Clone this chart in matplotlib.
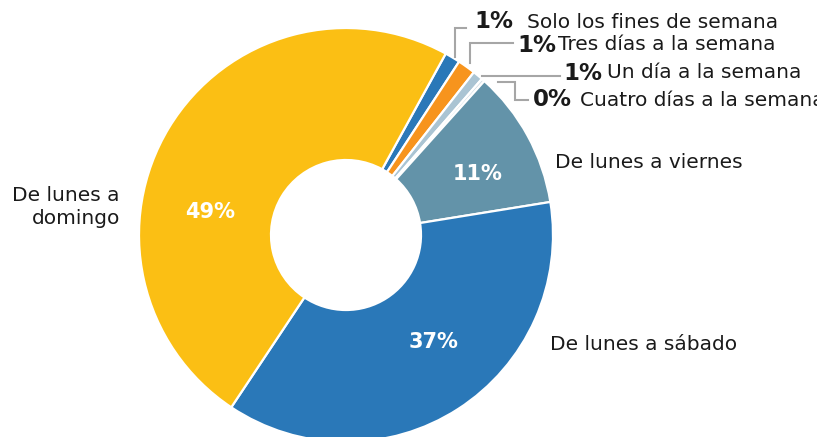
import matplotlib.pyplot as plt
import numpy as np

# Data
categories = ['Solo los fines de semana', 'Tres días a la semana', 'Un día a la semana',
              'Cuatro días a la semana', 'De lunes a viernes', 'De lunes a sábado',
              'De lunes a\ndomingo']
values = [1.2, 1.4, 0.8, 0.25, 10.8, 36.9, 48.65]
colors = ['#2A78B8', '#F7941D', '#AAC4D3', '#D0DCE4', '#6393A9', '#2A78B8', '#FBBF14']

fig = plt.figure(figsize=(8.17, 4.37), dpi=100)

# pixel geometry of the donut
cx, cy, R = 346, 235, 207
W, H = 817, 437
ax = fig.add_axes([(cx - R) / W, (H - cy - R) / H, 2 * R / W, 2 * R / H])

start = 90 - 28.8
wedges, _ = ax.pie(values, colors=colors, startangle=start, counterclock=False,
                   radius=1, wedgeprops=dict(width=1 - 75 / R, edgecolor='white', linewidth=1.6))
ax.set_xlim(-1, 1)
ax.set_ylim(-1, 1)
ax.set_aspect('equal')
ax.axis('off')


def d(px, py):
    # pixel position -> data coords of the pie axes
    return (px - cx) / R, (cy - py) / R


pcts = [f'{round(v):d}%' for v in values]
txt = dict(fontsize=14.5, color='#1a1a1a', clip_on=False)
big = dict(fontsize=15, color='white', fontweight='bold', ha='center', va='center')

# inner labels
ax.text(*d(478, 174), pcts[4], **big)
ax.text(*d(434, 342), pcts[5], **big)
ax.text(*d(210, 212), pcts[6], **big)

# outer labels for large slices
ax.text(*d(555, 162), categories[4], ha='left', va='center', **txt)
ax.text(*d(550, 345), categories[5], ha='left', va='center', **txt)
ax.text(*d(120, 207), categories[6], ha='right', va='center', multialignment='right',
        linespacing=1.25, **txt)

# small slices: bold pct + name, with grey leader lines
small = [
    (474, 22, 527, [(455, 57), (455, 28), (466, 28)]),
    (517, 45, 558, [(470, 63), (470, 43), (513, 43)]),
    (563, 73, 607, [(482, 76), (560, 76)]),
    (533, 100, 580, [(498, 82), (515, 82), (515, 100), (528, 100)]),
]
for i, (px, py, tx, line) in enumerate(small):
    pts = np.array([d(*p) for p in line])
    ax.plot(pts[:, 0], pts[:, 1], color='#A6A6A6', lw=1.5, clip_on=False,
            solid_joinstyle='miter')
    ax.text(*d(px, py), pcts[i], ha='left', va='center', fontsize=16.5,
            fontweight='bold', color='#1a1a1a', clip_on=False)
    ax.text(*d(tx, py), categories[i], ha='left', va='center', **txt)

fig.savefig('out.png', dpi=100)
